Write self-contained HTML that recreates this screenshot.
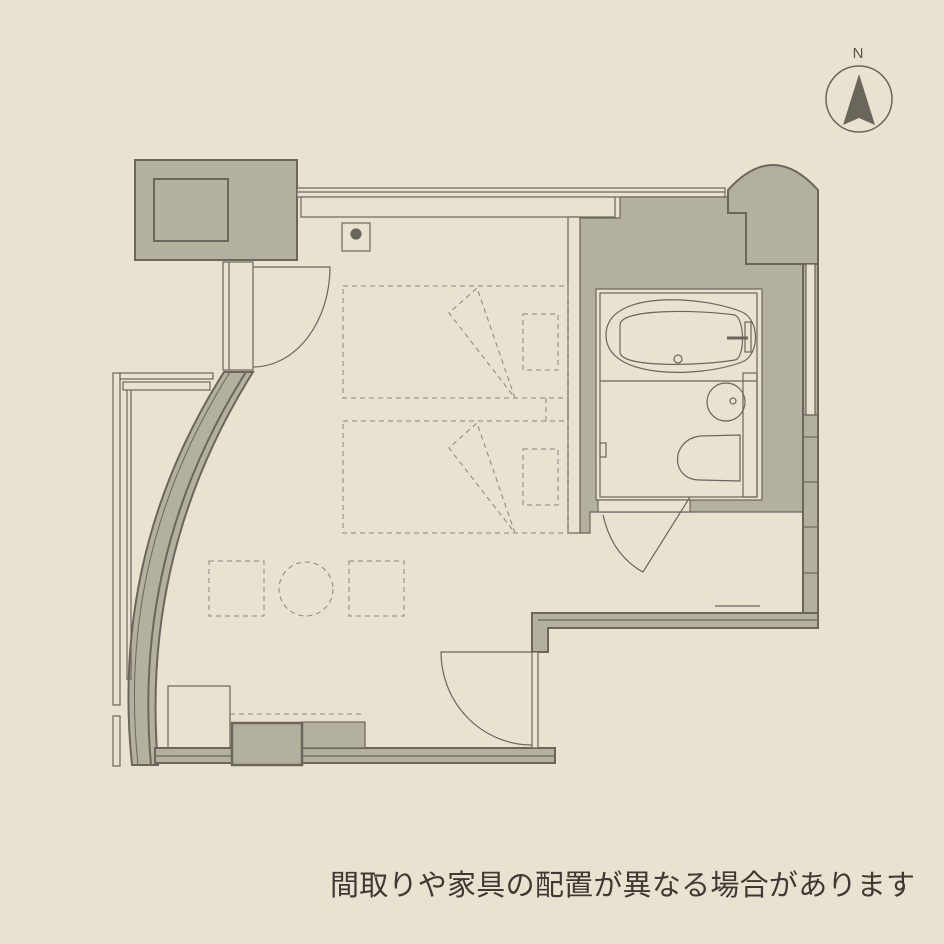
<!DOCTYPE html>
<html><head><meta charset="utf-8"><style>
html,body{margin:0;padding:0;background:#e9e2d1;}
svg{display:block}
</style></head><body>
<svg width="944" height="944" viewBox="0 0 944 944" xmlns="http://www.w3.org/2000/svg">
<rect width="944" height="944" fill="#e9e2d1"/>
<g stroke="#6b665c" fill="none" stroke-width="1.2">
<rect x="135" y="160" width="162" height="100" fill="#b3b0a0" stroke-width="2"/>
<rect x="154" y="179" width="74" height="62" fill="#b3b0a0" stroke-width="2"/>
<rect x="297" y="188" width="428" height="9" fill="#e9e2d1"/>
<line x1="297" y1="192" x2="725" y2="192"/>
<rect x="301" y="197" width="314" height="20" fill="#e9e2d1"/>
<path d="M580,218 L620,218 L620,197 L803,197 L803,512 L590,512 L590,533 L580,533 Z" fill="#b3b0a0"/>
<rect x="568" y="217" width="12" height="316" fill="#e9e2d1"/>
<path d="M728,190 Q773,140 818,190 L818,264 L746,264 L746,213 L728,213 Z" fill="#b3b0a0" stroke-width="2"/>
<rect x="803" y="264" width="15" height="351" fill="#b3b0a0" stroke-width="2"/>
<rect x="806" y="264" width="9" height="151" fill="#e9e2d1"/>
<line x1="803" y1="415" x2="818" y2="415"/><line x1="803" y1="437" x2="818" y2="437"/>
<line x1="803" y1="482" x2="818" y2="482"/><line x1="803" y1="527" x2="818" y2="527"/><line x1="803" y1="573" x2="818" y2="573"/>
<path d="M532,613 L818,613 L818,628 L548,628 L548,652 L532,652 Z" fill="#b3b0a0" stroke-width="2"/>
<line x1="538" y1="620" x2="818" y2="620"/>
<line x1="715" y1="606" x2="760" y2="606"/>
<rect x="596" y="289" width="166" height="211" fill="#e9e2d1"/>
<rect x="600" y="293" width="157" height="204"/>
<path d="M606,335 C606,290 700,295 742,312 C760,320 760,355 742,362 C700,378 606,380 606,335 Z"/>
<path d="M620,325 C620,308 700,310 735,315 C745,320 745,358 735,360 C700,366 620,368 620,352 Z"/>
<circle cx="678" cy="359" r="4"/>
<line x1="727" y1="338" x2="748" y2="338" stroke-width="3"/>
<rect x="745" y="322" width="6" height="30"/>
<line x1="600" y1="381" x2="757" y2="381"/>
<rect x="743" y="373" width="14" height="124"/>
<circle cx="726" cy="402" r="19"/>
<circle cx="733" cy="401" r="3"/>
<path d="M740,435 L700,436 C670,440 670,480 700,480 L740,481 Z"/>
<rect x="600" y="443" width="6" height="14"/>
<rect x="598" y="500" width="92" height="12" fill="#e9e2d1"/>
<path d="M603,515 Q612,555 643,572 L690,497"/>
<path d="M224,372 Q110,552 132,765 L158,765 Q140,552 253,372 Z" fill="#b3b0a0" stroke-width="2"/>
<path d="M230,372 Q116,552 138,765" stroke-width="1"/>
<path d="M246,372 Q132,552 151,765" stroke-width="2"/>
<rect x="223" y="262" width="30" height="108" fill="#e9e2d1"/>
<line x1="229" y1="262" x2="229" y2="370"/>
<path d="M253,267 L330,267 A77,100 0 0 1 253,367"/>
<rect x="113" y="373" width="7" height="332"/><rect x="120" y="373" width="93" height="6"/>
<rect x="123" y="382" width="87" height="8"/><line x1="127" y1="390" x2="127" y2="680"/><line x1="131" y1="390" x2="131" y2="680"/>
<rect x="113" y="716" width="7" height="50"/>
<rect x="155" y="748" width="400" height="15" fill="#b3b0a0" stroke-width="2"/>
<line x1="155" y1="756" x2="555" y2="756"/>
<rect x="168" y="686" width="62" height="62"/>
<rect x="302" y="722" width="63" height="26" fill="#b3b0a0"/>
<rect x="232" y="723" width="70" height="42" fill="#b3b0a0" stroke-width="2.5"/>
<rect x="532" y="652" width="6" height="96" fill="#e9e2d1"/>
<path d="M532,652 L441,652 A91,93 0 0 0 532,745"/>
<rect x="342" y="223" width="28" height="28"/>
<circle cx="356" cy="234" r="5" fill="#6b665c"/>
</g>
<g stroke="#8a857a" fill="none" stroke-width="1" stroke-dasharray="5,4">
<rect x="343" y="286" width="225" height="112"/>
<rect x="343" y="421" width="225" height="112"/>
<rect x="523" y="314" width="35" height="56"/>
<rect x="523" y="449" width="35" height="56"/>
<path d="M515,398 L477,288 L449,313 Z"/>
<path d="M515,533 L477,423 L449,448 Z"/>
<line x1="546" y1="398" x2="546" y2="421"/>
<rect x="209" y="561" width="55" height="55"/>
<circle cx="306" cy="589" r="27"/>
<rect x="349" y="561" width="55" height="55"/>
<line x1="230" y1="714" x2="365" y2="714"/>
</g>
<circle cx="859" cy="99" r="33" fill="none" stroke="#6b665c" stroke-width="1.5"/>
<path d="M843,125 L859,74 L875,125 L859,118 Z" fill="#6b665c"/>
<text x="858" y="58" font-family="Liberation Sans, sans-serif" font-size="15" fill="#5a554c" text-anchor="middle">N</text>
<text x="330" y="895" font-family="'Liberation Sans','Noto Sans CJK JP',sans-serif" font-size="29" fill="#3e3a33" textLength="585" lengthAdjust="spacing">間取りや家具の配置が異なる場合があります</text>
</svg>
</body></html>
